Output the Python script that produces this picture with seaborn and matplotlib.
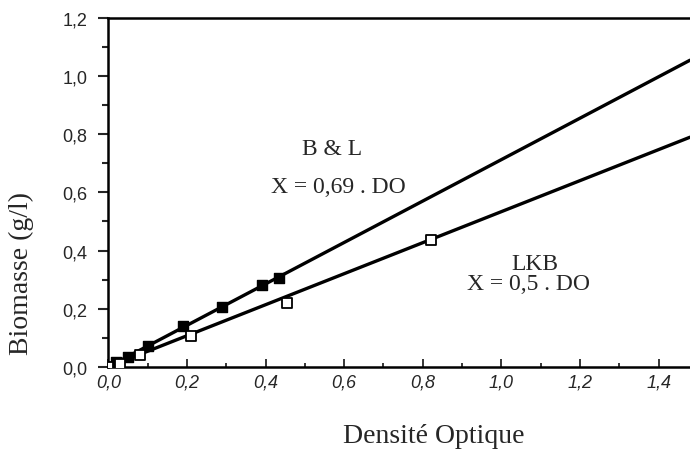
import matplotlib
matplotlib.use("Agg")
import matplotlib.pyplot as plt
import pandas as pd
import seaborn as sns
from matplotlib.ticker import MultipleLocator, FuncFormatter

bl_do = [0.0, 0.02, 0.05, 0.10, 0.19, 0.29, 0.39, 0.435]
bl_bio = [0.0, 0.015, 0.035, 0.07, 0.14, 0.205, 0.28, 0.305]
lkb_do = [0.0, 0.03, 0.08, 0.21, 0.455, 0.82]
lkb_bio = [0.0, 0.01, 0.04, 0.105, 0.22, 0.435]

# Regression lines (through the origin), end points at the right edge
fit_do = [0.0, 1.48]
bl_fit = [0.0, 1.055]
lkb_fit = [0.0, 0.79]

sns.set_style("ticks")
plt.rcParams["font.family"] = ["Liberation Sans", "DejaVu Sans"]

fig = plt.figure(figsize=(6.9, 4.77), dpi=100)
ax = fig.add_axes([0.157, 0.229, 0.843, 0.731])

fits = pd.DataFrame({"do": fit_do * 2, "bio": bl_fit + lkb_fit,
                     "serie": ["B & L"] * 2 + ["LKB"] * 2})
sns.lineplot(data=fits, x="do", y="bio", units="serie", estimator=None,
             color="black", linewidth=2.4, ax=ax, legend=False)

sns.scatterplot(x=bl_do, y=bl_bio, marker="s", s=55, color="black",
                edgecolor="black", linewidth=1, zorder=3, ax=ax)
sns.scatterplot(x=lkb_do, y=lkb_bio, marker="s", s=50, color="white",
                edgecolor="black", linewidth=1.3, zorder=3, ax=ax)

ax.set_xlim(0, 1.48)
ax.set_ylim(0, 1.2)
ax.xaxis.set_major_locator(MultipleLocator(0.2))
ax.xaxis.set_minor_locator(MultipleLocator(0.1))
ax.yaxis.set_major_locator(MultipleLocator(0.2))
ax.yaxis.set_minor_locator(MultipleLocator(0.1))
comma = FuncFormatter(lambda v, p: f"{v:.1f}".replace(".", ","))
ax.xaxis.set_major_formatter(comma)
ax.yaxis.set_major_formatter(comma)

ax.tick_params(axis="x", which="both", direction="in", labelsize=13, pad=5)
ax.tick_params(axis="x", which="major", length=6, width=1.3)
ax.tick_params(axis="x", which="minor", length=3, width=1.3)
ax.tick_params(axis="y", which="both", direction="out", labelsize=13, pad=8)
ax.tick_params(axis="y", which="major", length=7, width=1.5)
ax.tick_params(axis="y", which="minor", length=4, width=1.5)
for lab in ax.get_xticklabels():
    lab.set_fontstyle("italic")

ax.spines["right"].set_visible(False)
for side in ["left", "bottom", "top"]:
    ax.spines[side].set_linewidth(1.8)
    ax.spines[side].set_color("black")

serif = ["Liberation Serif", "DejaVu Serif"]
ax.set_xlabel("Densité Optique", family=serif, fontsize=20)
ax.set_ylabel("Biomasse (g/l)", family=serif, fontsize=20)
ax.xaxis.set_label_coords(0.56, -0.16)
ax.yaxis.set_label_coords(-0.128, 0.27)

ax.text(0.57, 0.75, "B & L", family=serif, fontsize=17, ha="center", va="center")
ax.text(0.585, 0.62, "X = 0,69 . DO", family=serif, fontsize=17, ha="center", va="center")
ax.text(1.085, 0.355, "LKB", family=serif, fontsize=17, ha="center", va="center")
ax.text(1.07, 0.286, "X = 0,5 . DO", family=serif, fontsize=17, ha="center", va="center")

fig.savefig("out.png", dpi=100)
